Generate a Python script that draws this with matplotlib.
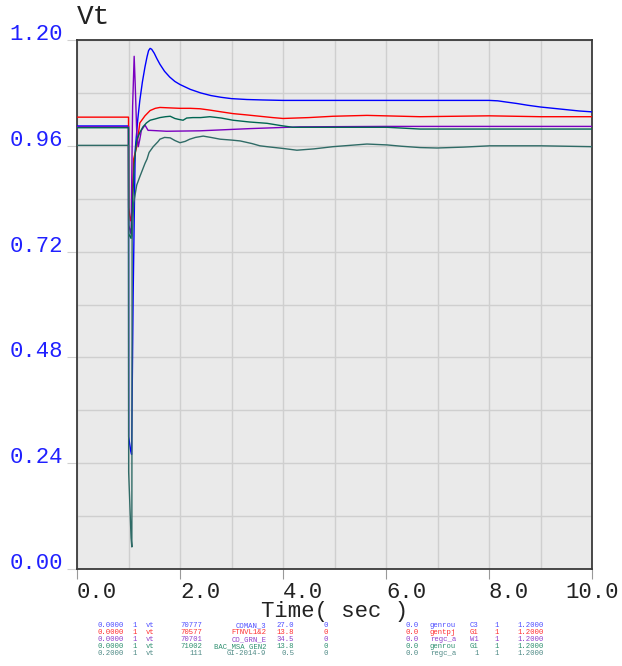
import matplotlib
matplotlib.use("Agg")
import matplotlib.pyplot as plt
from matplotlib.ticker import MultipleLocator, FixedLocator

# ---------------- data ----------------
t_blue = [0, 1.0, 1.003, 1.04, 1.06, 1.09, 1.13, 1.18, 1.22, 1.27, 1.32, 1.36, 1.39, 1.42, 1.45,
          1.50, 1.55, 1.61, 1.70, 1.80, 1.90, 2.0, 2.2, 2.4, 2.6, 2.8, 3.0, 3.3, 3.6, 4.0,
          5.0, 6.0, 7.0, 8.0, 8.17, 8.35, 8.54, 8.75, 9.0, 9.25, 9.5, 9.75, 10.0]
v_blue = [1.005, 1.005, 0.30, 0.27, 0.26, 0.62, 0.95, 1.02, 1.063, 1.105, 1.139, 1.162, 1.176, 1.181, 1.179,
          1.170, 1.158, 1.145, 1.129, 1.116, 1.106, 1.099, 1.088, 1.080, 1.074, 1.070, 1.067, 1.065, 1.064, 1.063,
          1.063, 1.063, 1.063, 1.063, 1.062, 1.059, 1.056, 1.052, 1.048, 1.045, 1.042, 1.039, 1.037]

t_red = [0, 1.0, 1.003, 1.04, 1.06, 1.10, 1.16, 1.22, 1.32, 1.42, 1.52, 1.61, 1.8, 2.0, 2.2, 2.39, 2.58,
         2.8, 3.03, 3.3, 3.55, 3.8, 4.0, 4.5, 4.97, 5.63, 6.66, 8.0, 9.0, 10.0]
v_red = [1.025, 1.025, 0.82, 0.79, 0.80, 0.93, 0.958, 1.012, 1.028, 1.040, 1.045, 1.047, 1.046, 1.045, 1.045,
         1.044, 1.041, 1.037, 1.033, 1.030, 1.027, 1.024, 1.022, 1.024, 1.027, 1.029, 1.026, 1.028, 1.026, 1.026]

t_purple = [0, 1.0, 1.003, 1.05, 1.08, 1.11, 1.13, 1.16, 1.19, 1.22, 1.25, 1.32, 1.38, 1.42, 1.74, 2.39,
            3.36, 4.33, 6.0, 8.0, 10.0]
v_purple = [1.003, 1.003, 0.78, 0.76, 1.05, 1.163, 1.10, 0.99, 0.958, 0.975, 0.995, 1.007, 0.995, 0.995, 0.993, 0.994,
            0.999, 1.003, 1.004, 1.004, 1.004]

t_green = [0, 1.0, 1.003, 1.05, 1.07, 1.11, 1.16, 1.22, 1.28, 1.35, 1.42, 1.52, 1.61, 1.72, 1.81, 1.90, 1.97,
           2.06, 2.13, 2.25, 2.4, 2.58, 2.8, 3.03, 3.35, 3.69, 3.95, 4.19, 4.97, 6.02, 6.66, 8.0, 10.0]
v_green = [1.001, 1.001, 0.76, 0.75, 0.80, 0.92, 0.973, 0.990, 1.003, 1.012, 1.018, 1.021, 1.024, 1.026, 1.027,
           1.022, 1.020, 1.018, 1.023, 1.024, 1.024, 1.026, 1.023, 1.018, 1.014, 1.011, 1.006, 1.002, 1.002,
           1.002, 0.998, 0.998, 0.998]

t_teal = [0, 1.0, 1.003, 1.05, 1.065, 1.07, 1.10, 1.16, 1.22, 1.27, 1.32, 1.36, 1.40, 1.48, 1.57, 1.61, 1.70,
          1.81, 1.90, 2.0, 2.1, 2.19, 2.3, 2.45, 2.6, 2.78, 3.0, 3.17, 3.4, 3.55, 3.69, 4.0, 4.27, 4.6, 4.97,
          5.3, 5.63, 6.02, 6.3, 6.66, 6.99, 7.5, 8.02, 9.0, 10.0]
v_teal = [0.961, 0.961, 0.22, 0.07, 0.05, 0.746, 0.83, 0.871, 0.89, 0.905, 0.92, 0.93, 0.945, 0.958, 0.969, 0.975,
          0.979, 0.978, 0.972, 0.967, 0.970, 0.975, 0.979, 0.982, 0.979, 0.975, 0.973, 0.971, 0.965, 0.960, 0.958,
          0.954, 0.950, 0.953, 0.958, 0.961, 0.964, 0.962, 0.959, 0.956, 0.955, 0.957, 0.960, 0.960, 0.958]

series_t = [t_blue, t_red, t_purple, t_green, t_teal]
series_v = [v_blue, v_red, v_purple, v_green, v_teal]

x_ticks = [0, 2, 4, 6, 8, 10]
x_tick_labels = ["0.0", "2.0", "4.0", "6.0", "8.0", "10.0"]
y_ticks = [0.0, 0.24, 0.48, 0.72, 0.96, 1.20]
y_tick_labels = ["0.00", "0.24", "0.48", "0.72", "0.96", "1.20"]

leg_c1 = ["0.0000", "0.0000", "0.0000", "0.0000", "0.2000"]
leg_c2 = ["1", "1", "1", "1", "1"]
leg_c3 = ["vt", "vt", "vt", "vt", "vt"]
leg_bus = ["70777", "70577", "70701", "71002", "111"]
leg_name = ["COMAN_3", "FTNVL1&2", "CO_GRN_E", "BAC_MSA GEN2", "GI-2014-9"]
leg_kv = ["27.0", "13.8", "34.5", "13.8", "0.5"]
leg_zero = ["0", "0", "0", "0", "0"]
leg_c8 = ["0.0", "0.0", "0.0", "0.0", "0.0"]
leg_model = ["genrou", "gentpj", "regc_a", "genrou", "regc_a"]
leg_id = ["C3", "G1", "W1", "G1", "1"]
leg_c11 = ["1", "1", "1", "1", "1"]
leg_c12 = ["1.2000", "1.2000", "1.2000", "1.2000", "1.2000"]

# ---------------- style ----------------
line_colors = ["#0000ff", "#ff0000", "#7a00c0", "#006652", "#2f6b66"]
legend_colors = ["#4d4dff", "#ff3030", "#9040cc", "#2f9070", "#4f8a86"]
MONO = "Liberation Mono"

W, H = 622, 666
fig = plt.figure(figsize=(W / 100, H / 100), dpi=100)
L, R, T, B = 77, 592, 40, 569
ax = fig.add_axes([L / W, 1 - B / H, (R - L) / W, (B - T) / H])
ax.set_facecolor("#eaeaea")

for tt, vv, c in zip(series_t, series_v, line_colors):
    ax.plot(tt, vv, color=c, lw=1.0, zorder=3)

ax.set_xlim(0, 10)
ax.set_ylim(0, 1.2)

ax.xaxis.set_major_locator(FixedLocator(x_ticks))
ax.xaxis.set_minor_locator(MultipleLocator(1.0))
ax.yaxis.set_major_locator(FixedLocator(y_ticks))
ax.yaxis.set_minor_locator(MultipleLocator(0.12))
ax.grid(True, which="both", color="#cfcfcf", lw=1.0, zorder=0)
ax.set_axisbelow(True)

ax.set_xticklabels(x_tick_labels, fontsize=16, family=MONO, color="#222222")
ax.set_yticklabels(y_tick_labels, fontsize=16, family=MONO, color="#2020ff")
ax.tick_params(axis="x", which="major", length=7, color="#999999", pad=2)
ax.tick_params(axis="x", which="minor", length=0)
ax.tick_params(axis="y", which="major", length=7, color="#d0d0d0", pad=3)
ax.tick_params(axis="y", which="minor", length=0)

for i, lab in enumerate(ax.get_xticklabels()):
    if i == len(x_ticks) - 1:
        lab.set_ha("center")
    else:
        lab.set_ha("left")
for lab in ax.get_yticklabels():
    lab.set_va("baseline")

for s in ax.spines.values():
    s.set_color("#3a3a3a")
    s.set_linewidth(1.3)

# title
fig.text(L / W, 1 - 24 / H, "Vt", fontsize=20, family=MONO, color="#222222",
         ha="left", va="baseline")
# x label
fig.text((L + R) / 2 / W, 1 - 617 / H, "Time( sec )", fontsize=16, family=MONO,
         color="#222222", ha="center", va="baseline")

# legend block (baselines)
row_y = [627.0, 634.0, 641.0, 648.0, 655.0]
cols = [
    (leg_c1, 97.7, "left"), (leg_c2, 132.4, "left"), (leg_c3, 145.5, "left"),
    (leg_bus, 202.5, "right"), (leg_name, 266.3, "right"), (leg_kv, 294.3, "right"),
    (leg_zero, 327.7, "right"), (leg_c8, 405.9, "left"), (leg_model, 429.8, "left"),
    (leg_id, 478.5, "right"), (leg_c11, 498.4, "right"), (leg_c12, 517.1, "left"),
]
for r, (yy, col) in enumerate(zip(row_y, legend_colors)):
    for arr, xx, ha in cols:
        fig.text(xx / W, 1 - yy / H, arr[r], fontsize=5.2, family=MONO, color=col,
                 ha=ha, va="baseline")

fig.savefig("out.png", dpi=100)
